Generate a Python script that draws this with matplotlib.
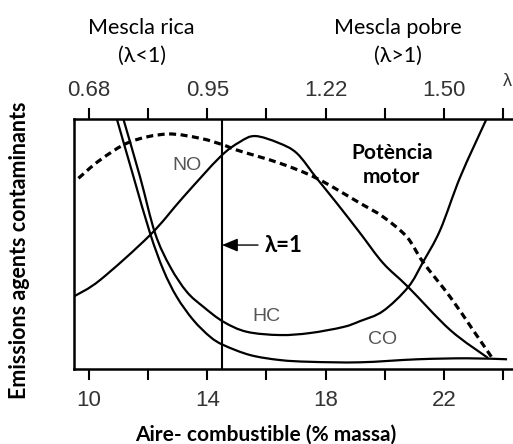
import numpy as np
import matplotlib
matplotlib.use("Agg")
import matplotlib.pyplot as plt
from matplotlib.path import Path
from matplotlib.patches import PathPatch

# Relació aire-combustible (eix inferior) i valors de lambda (eix superior)
afr_ticks = [10, 12, 14, 16, 18, 20, 22, 24]
afr_labels = ['10', '', '14', '', '18', '', '22', '']
lambda_labels = ['0.68', '', '0.95', '', '1.22', '', '1.50', '']
afr_stoich = 14.5

# Potència motor (discontínua)
pot_x = [9.65, 10.38, 11.40, 12.64, 13.76, 14.55, 15.0, 16.46, 17.70,
         19.17, 19.94, 20.74, 21.29, 22.21, 22.98, 23.63]
pot_y = [76.4, 83.7, 91.0, 94.1, 92.4, 89.7, 87.7, 82.4, 76.4,
         66.4, 61.0, 53.0, 42.9, 28.9, 15.7, 4.5]

# NO
no_x = [9.52, 10.38, 12.07, 13.20, 14.44, 15.11, 15.62, 16.40, 17.03,
        17.70, 18.38, 19.17, 19.94, 20.79, 22.21, 23.49]
no_y = [29.3, 35.7, 53.7, 69.0, 85.0, 91.0, 93.3, 90.6, 86.4,
        76.4, 66.4, 54.4, 42.5, 32.9, 15.7, 4.5]

# HC
hc_x = [11.17, 11.73, 12.24, 12.75, 13.31, 13.87, 14.55, 15.34, 16.46, 17.47,
        18.59, 19.17, 19.94, 20.79, 21.29, 21.87, 22.55, 23.43]
hc_y = [100, 77.0, 54.4, 41.0, 31.0, 25.0, 19.0, 15.0, 13.7, 14.5,
        16.9, 19.3, 23.3, 32.9, 42.9, 55.7, 77.0, 100]

# CO
co_x = [10.95, 11.51, 12.07, 12.52, 12.97, 13.53, 14.10, 14.55, 15.45, 16.46,
        17.47, 19.17, 21.09, 22.78, 24.13]
co_y = [100, 77.0, 54.4, 39.7, 29.0, 19.7, 13.0, 9.7, 5.7, 3.7,
        3.0, 2.8, 4.0, 4.4, 4.0]


def smooth_path(xs, ys):
    # Catmull-Rom through the points, drawn as cubic Bezier segments
    p = np.column_stack([xs, ys]).astype(float)
    p_ext = np.vstack([p[0], p, p[-1]])
    verts = [p[0]]
    codes = [Path.MOVETO]
    for i in range(1, len(p_ext) - 2):
        p0, p1, p2, p3 = p_ext[i - 1], p_ext[i], p_ext[i + 1], p_ext[i + 2]
        verts += [p1 + (p2 - p0) / 6, p2 - (p3 - p1) / 6, p2]
        codes += [Path.CURVE4] * 3
    return Path(verts, codes)


W, H = 513, 444
fig = plt.figure(figsize=(W / 100, H / 100), dpi=100)
ax = fig.add_axes([74 / W, 1 - 369.3 / H, (W - 74) / W, 250 / H])

lw = 1.6
ax.add_patch(PathPatch(smooth_path(pot_x, pot_y), fill=False, color='black',
                       lw=2.3, ls=(0, (2.2, 1.4)), capstyle='butt'))
for xs, ys in [(no_x, no_y), (hc_x, hc_y), (co_x, co_y)]:
    ax.add_patch(PathPatch(smooth_path(xs, ys), fill=False, color='black', lw=lw))
ax.axvline(afr_stoich, color='black', lw=1.5)

ax.set_xlim(9.5, 24.33)
ax.set_ylim(0, 100)

for s in ['left', 'top', 'bottom']:
    ax.spines[s].set_linewidth(1.8)
ax.spines['right'].set_visible(False)

tick_font = dict(family=['Liberation Sans', 'DejaVu Sans'], size=16, color='#333333')
ax.set_xticks(afr_ticks)
ax.set_xticklabels(afr_labels, **tick_font)
ax.set_yticks([])
ax.tick_params(axis='x', direction='out', length=8, width=1.5, pad=7)

top = ax.twiny()
top.set_xlim(ax.get_xlim())
top.set_xticks(afr_ticks)
top.set_xticklabels(lambda_labels, **tick_font)
top.tick_params(axis='x', direction='out', length=8, width=1.5, pad=5)
for s in top.spines.values():
    s.set_visible(False)
top.set_yticks([])

cal = ['Lato', 'DejaVu Sans']
fig.text(507 / W, 1 - 82 / H, 'λ', fontsize=13, color='#333333',
         family=['Liberation Sans', 'DejaVu Sans'], ha='center', va='center')
fig.text(141.7 / W, 1 - 27.7 / H, 'Mescla rica', fontsize=15.5, family=cal, ha='center', va='center')
fig.text(141.7 / W, 1 - 56 / H, '(λ<1)', fontsize=15.5, family=cal, ha='center', va='center')
fig.text(397.5 / W, 1 - 27.7 / H, 'Mescla pobre', fontsize=15.5, family=cal, ha='center', va='center')
fig.text(397.5 / W, 1 - 56 / H, '(λ>1)', fontsize=15.5, family=cal, ha='center', va='center')

fig.text(266 / W, 1 - 435 / H, 'Aire- combustible (% massa)', fontsize=15,
         fontweight='bold', family=cal, ha='center', va='center')
fig.text(20 / W, 1 - 250 / H, 'Emissions agents contaminants', fontsize=15.5,
         fontweight='bold', family=cal, ha='center', va='center', rotation=90)

lab_font = dict(family=['Liberation Sans', 'DejaVu Sans'], size=14, color='#555555',
                ha='center', va='center')
ax.text(13.31, 81.7, 'NO', **lab_font)
ax.text(16.01, 21.3, 'HC', **lab_font)
ax.text(19.92, 12.0, 'CO', **lab_font)
ax.text(20.24, 81.7, 'Potència\nmotor', fontsize=15, fontweight='bold', family=cal,
        ha='center', va='center', linespacing=1.25)

ax.annotate('λ=1', xy=(afr_stoich, 49.7), xytext=(15.95, 49.7),
            fontsize=16, fontweight='bold', family=cal, ha='left', va='center',
            arrowprops=dict(arrowstyle='-|>,head_length=0.6,head_width=0.25',
                            color='black', lw=1.0, shrinkA=3, shrinkB=0))

fig.savefig('out.png', dpi=100)
